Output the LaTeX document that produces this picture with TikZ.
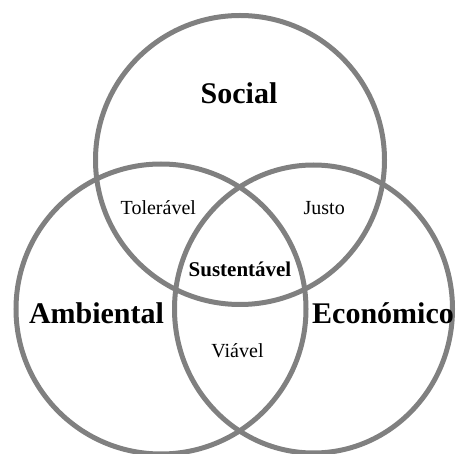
\documentclass[tikz,border=0pt]{standalone}
\usepackage{fontspec}
\setmainfont{Liberation Serif}
\usepackage{tikz}
\tikzstyle{venn}=[
  x=1pt,y=-1pt
]
\tikzstyle{ring}=[
  draw=gray,line width=5pt
]
\tikzstyle{pillar}=[
  anchor=base,inner sep=0pt,font=\fontsize{30}{30}\selectfont\bfseries
]
\tikzstyle{overlap}=[
  anchor=base,inner sep=0pt,font=\fontsize{20}{20}\selectfont
]
\tikzstyle{core}=[
  anchor=base,inner sep=0pt,font=\fontsize{21}{21}\selectfont\bfseries
]

\begin{document}
\begin{tikzpicture}[venn]
        \clip (0,0) rectangle (458,454);
        \coordinate (soc) at (240,160);
        \coordinate (amb) at (161,309);
        \coordinate (eco) at (313.5,309);

        \draw [ring] (soc) circle [radius=144.5pt];
        \draw [ring] (amb) circle [radius=145pt];
        \draw [ring] (eco) circle [x radius=139pt, y radius=144pt];

        \node (social) at (239,103.5) [pillar] {Social};
        \node (ambiental) at (96.5,323.3) [pillar] {Ambiental};
        \node (economico) at (383,323.3) [pillar] {Económico};

        \node (toleravel) at (158.3,214.3) [overlap] {Tolerável};
        \node (justo) at (324.2,214.3) [overlap] {Justo};
        \node (viavel) at (237.5,357.3) [overlap] {Viável};
        \node (sustentavel) at (240,276.7) [core] {Sustentável};
        \end{tikzpicture}
\end{document}
